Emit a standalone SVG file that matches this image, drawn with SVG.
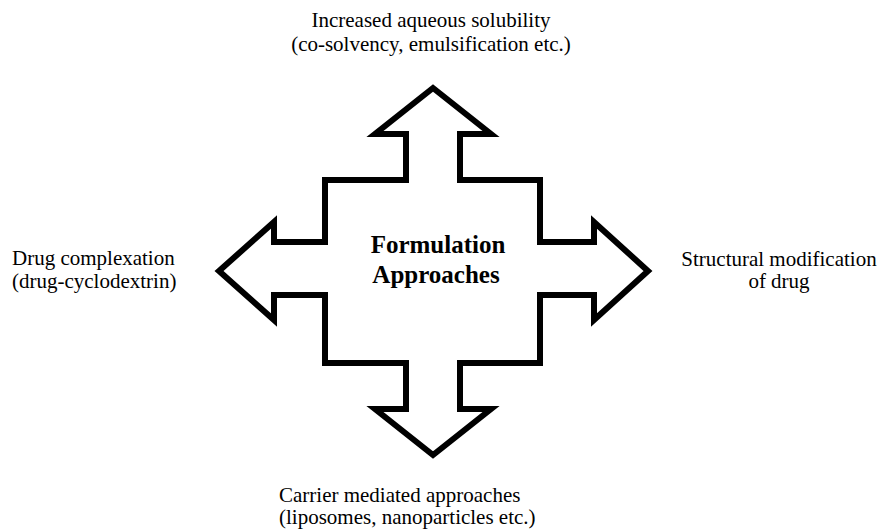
<svg xmlns="http://www.w3.org/2000/svg" width="879" height="530" viewBox="0 0 879 530">
<style>
text{font-family:'Liberation Serif','DejaVu Serif',serif;fill:#000}
.lbl{font-size:21px}
.ctr{font-size:25px;font-weight:bold}
.shape{fill:#fff;stroke:#000;stroke-width:6;stroke-linejoin:miter;stroke-miterlimit:10}
</style>
<rect width="879" height="530" fill="#fff"/>
<g id="connectors">
<path class="shape" d="M433,88 L491,134 L460,134 L460,180 L540,180 L540,242 L594,242 L594,222 L648,271 L594,320 L594,295 L540,295 L540,363 L460,363 L460,409 L491,409 L433,455 L375,409 L406,409 L406,363 L325,363 L325,295 L274,295 L274,320 L219,271 L274,222 L274,242 L325,242 L325,180 L406,180 L406,134 L375,134 Z"/>
</g>
<g id="center">
<text class="ctr" x="438" y="253" text-anchor="middle" font-family="Liberation Serif, serif">Formulation</text>
<text class="ctr" x="436" y="283" text-anchor="middle" font-family="Liberation Serif, serif">Approaches</text>
</g>
<g id="top">
<text class="lbl" x="431" y="27" text-anchor="middle" font-family="Liberation Serif, serif">Increased aqueous solubility</text>
<text class="lbl" x="431" y="51" text-anchor="middle" font-family="Liberation Serif, serif">(co-solvency, emulsification etc.)</text>
</g>
<g id="left">
<text class="lbl" x="12" y="265" font-family="Liberation Serif, serif">Drug complexation</text>
<text class="lbl" x="12" y="288" font-family="Liberation Serif, serif">(drug-cyclodextrin)</text>
</g>
<g id="right">
<text class="lbl" x="779" y="266" text-anchor="middle" font-family="Liberation Serif, serif">Structural modification</text>
<text class="lbl" x="779" y="288" text-anchor="middle" font-family="Liberation Serif, serif">of drug</text>
</g>
<g id="bottom">
<text class="lbl" x="279" y="502" font-family="Liberation Serif, serif">Carrier mediated approaches</text>
<text class="lbl" x="279" y="524" font-family="Liberation Serif, serif">(liposomes, nanoparticles etc.)</text>
</g>
</svg>
